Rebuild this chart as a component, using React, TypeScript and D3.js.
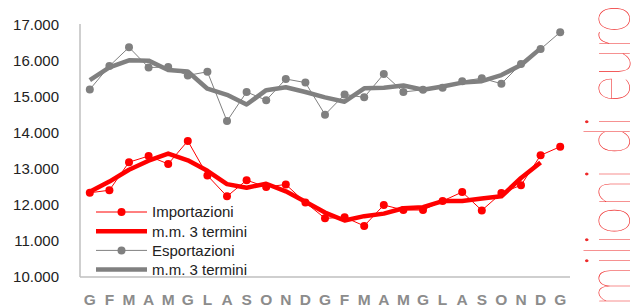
import React from "react";
import * as d3 from "d3";

const months = ["G","F","M","A","M","G","L","A","S","O","N","D","G","F","M","A","M","G","L","A","S","O","N","D","G"];

const importazioni = [12340,12410,13190,13360,13140,13780,12820,12240,12690,12500,12570,12070,11630,11660,11420,12000,11860,11860,12110,12360,11850,12330,12550,13380,13620];
const importazioniMM = [12370,12650,12980,13230,13430,13240,12950,12580,12480,12590,12380,12090,11790,11570,11690,11760,11910,11940,12110,12110,12180,12240,12750,13180,null];

const esportazioni = [15210,15860,16380,15820,15830,15600,15700,14330,15140,14910,15500,15400,14510,15070,14990,15640,15140,15200,15260,15440,15520,15370,15920,16330,16800];
const esportazioniMM = [15470,15820,16020,16010,15750,15710,15230,15060,14790,15190,15270,15140,14990,14870,15240,15260,15320,15200,15290,15400,15440,15610,15890,16350,null];

const yTicks = [10000,11000,12000,13000,14000,15000,16000,17000];

const legendItems = [
  { label: "Importazioni", color: "#ff0000", thick: false },
  { label: "m.m. 3 termini", color: "#ff0000", thick: true },
  { label: "Esportazioni", color: "#808080", thick: false },
  { label: "m.m. 3 termini", color: "#808080", thick: true },
];

const W = 632, H = 308;

export default function App() {
  const x = d3.scaleBand<number>().domain(months.map((_, i) => i)).range([80, 570]).padding(0);
  const cx = (i: number) => (x(i) as number) + x.bandwidth() / 2;
  const y = d3.scaleLinear().domain([10000, 17000]).range([277, 25]);
  const loc = d3.formatLocale({ thousands: ".", grouping: [3], decimal: ",", currency: ["", ""] });
  const fmt = loc.format(",.0f");

  const line = d3.line<number | null>()
    .defined((d) => d !== null)
    .x((_, i) => cx(i))
    .y((d) => y(d as number));

  const series = [
    { vals: esportazioni, mm: esportazioniMM, color: "#808080" },
    { vals: importazioni, mm: importazioniMM, color: "#ff0000" },
  ];

  return (
    <svg width={W} height={H} style={{ position: "absolute", left: 0, top: 0, display: "block" }}
      fontFamily="'Liberation Sans', Arial, sans-serif">
      <rect width={W} height={H} fill="#fff" />
      {/* axes */}
      <line x1={80} x2={80} y1={24} y2={277} stroke="#bfbfbf" strokeWidth={1.5} />
      <line x1={80} x2={570} y1={277} y2={277} stroke="#bfbfbf" strokeWidth={1.5} />
      {yTicks.map((t) => (
        <text key={t} x={59} y={y(t)} dy="0.36em" textAnchor="end" fontSize={15} fill="#222">{fmt(t)}</text>
      ))}
      {months.map((m, i) => (
        <text key={i} x={cx(i)} y={305} textAnchor="middle" fontSize={15.5} fontWeight="bold" fill="#8c8c8c">{m}</text>
      ))}
      {series.map((s, k) => (
        <g key={k}>
          <path d={line(s.mm) || ""} fill="none" stroke={s.color} strokeWidth={4.5} strokeLinejoin="round" />
          <path d={line(s.vals) || ""} fill="none" stroke={s.color} strokeWidth={1} />
          {s.vals.map((v, i) => (
            <circle key={i} cx={cx(i)} cy={y(v)} r={4} fill={s.color} />
          ))}
        </g>
      ))}
      {/* legend */}
      {legendItems.map((it, i) => {
        const ly = 212 + i * 19.2;
        return (
          <g key={i}>
            <line x1={96} x2={147} y1={ly} y2={ly} stroke={it.color} strokeWidth={it.thick ? 4.5 : 1} />
            {!it.thick && <circle cx={121.5} cy={ly} r={4} fill={it.color} />}
            <text x={152} y={ly} dy="0.36em" fontSize={15} fill="#222">{it.label}</text>
          </g>
        );
      })}
      {/* right label */}
      <text transform="translate(630,306) rotate(-90)" fontFamily="Lato, 'Open Sans', sans-serif" fontWeight={100}
        fontSize={64} fill="#ee2a2a" textLength={301} lengthAdjust="spacingAndGlyphs">milioni di euro</text>
    </svg>
  );
}
